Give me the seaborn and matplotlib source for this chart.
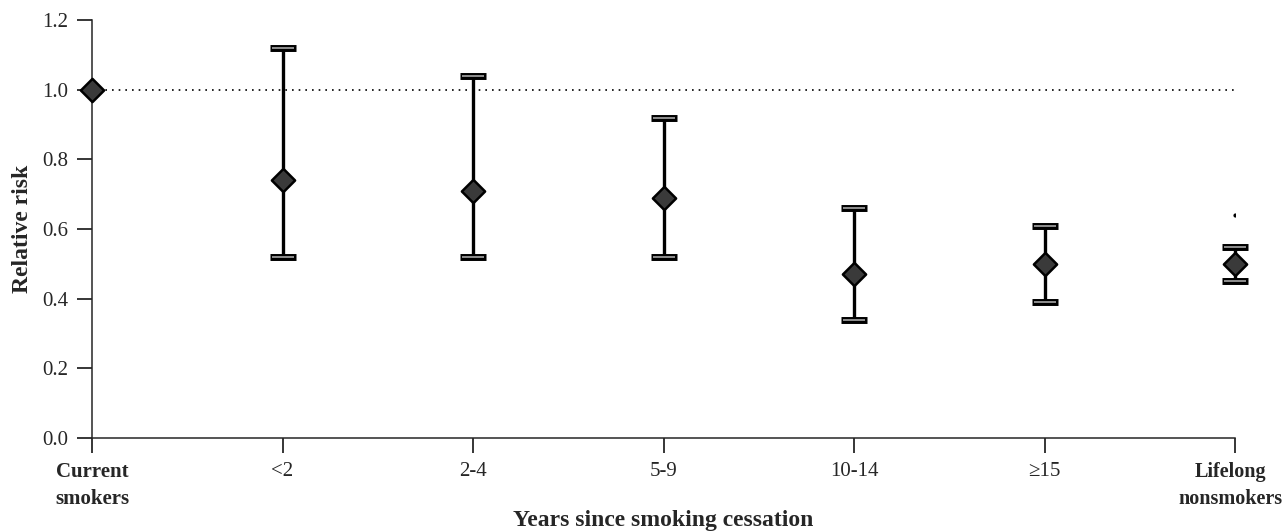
import numpy as np
import pandas as pd
import seaborn as sns
import matplotlib.pyplot as plt
import matplotlib.transforms as mtransforms

# Data
groups = ["Current\nsmokers", "<2", "2-4", "5-9", "10-14", "\u226515", "Lifelong\nnonsmokers"]
rel_risk = [1.00, 0.74, 0.71, 0.69, 0.47, 0.50, 0.50]
ci_low = [1.00, 0.52, 0.52, 0.52, 0.34, 0.39, 0.45]
ci_high = [1.00, 1.12, 1.04, 0.92, 0.66, 0.61, 0.55]
# stray print dot above the last group
stray_x = [6]
stray_y = [0.64]

sns.set_style("ticks")
plt.rcParams["font.family"] = ["Liberation Serif", "DejaVu Serif"]

df = pd.DataFrame({"pos": np.arange(len(groups)), "rr": rel_risk,
                   "lo": ci_low, "hi": ci_high})

fig = plt.figure(figsize=(12.85, 5.32), dpi=100)
ax = fig.add_axes([0.0716, 0.1767, 0.8895, 0.7853])

# reference line at RR = 1
ax.axhline(1.0, color="black", linestyle=(0, (1, 3)), linewidth=1.2, zorder=1)

# confidence intervals (skip the reference group)
ci = df[df["hi"] > df["lo"]]
yerr = [ci["rr"] - ci["lo"], ci["hi"] - ci["rr"]]
ax.errorbar(ci["pos"], ci["rr"], yerr=yerr, fmt="none", ecolor="black",
            elinewidth=2.4, capsize=9.5, capthick=5, zorder=2, clip_on=False)
ax.errorbar(ci["pos"], ci["rr"], yerr=yerr, fmt="none", ecolor="#9a9a9a",
            elinewidth=0, capsize=8.2, capthick=1.3, zorder=3, clip_on=False)

sns.scatterplot(data=df, x="pos", y="rr", marker="D", s=140, color="#3a3a3a",
                edgecolor="black", linewidth=1.8, ax=ax, zorder=4, clip_on=False)
ax.scatter(stray_x, stray_y, s=4, color="black", zorder=4)

ax.set_xlim(0, len(groups) - 1)
ax.set_ylim(0, 1.2)
ax.set_yticks(np.arange(0, 1.21, 0.2))
ax.set_yticklabels([f"{v:.1f}" for v in np.arange(0, 1.21, 0.2)], fontsize=15)
ax.set_xticks(df["pos"])
# last label is drawn separately so it can sit a little left of its tick
ax.set_xticklabels(groups[:-1] + [""], fontsize=15, linespacing=1.5)
ax.get_xticklabels()[0].set_fontweight("bold")
shift = mtransforms.ScaledTranslation(-0.05, 0, fig.dpi_scale_trans)
ax.text(len(groups) - 1, -0.057, groups[-1], fontsize=14.5, fontweight="bold",
        ha="center", va="top", linespacing=1.5,
        transform=ax.get_xaxis_transform() + shift)
ax.tick_params(axis="both", direction="out", length=11, width=1.1, color="black")
ax.tick_params(axis="x", pad=6)
ax.tick_params(axis="y", pad=6)

ax.set_xlabel("Years since smoking cessation", fontsize=17, fontweight="bold")
ax.xaxis.set_label_coords(0.5, -0.172)
ax.set_ylabel("Relative risk", fontsize=17, fontweight="bold")
ax.yaxis.set_label_coords(-0.052, 0.5)
sns.despine(ax=ax)
for s in ("left", "bottom"):
    ax.spines[s].set_linewidth(1.1)

fig.savefig("out.png", dpi=100)
